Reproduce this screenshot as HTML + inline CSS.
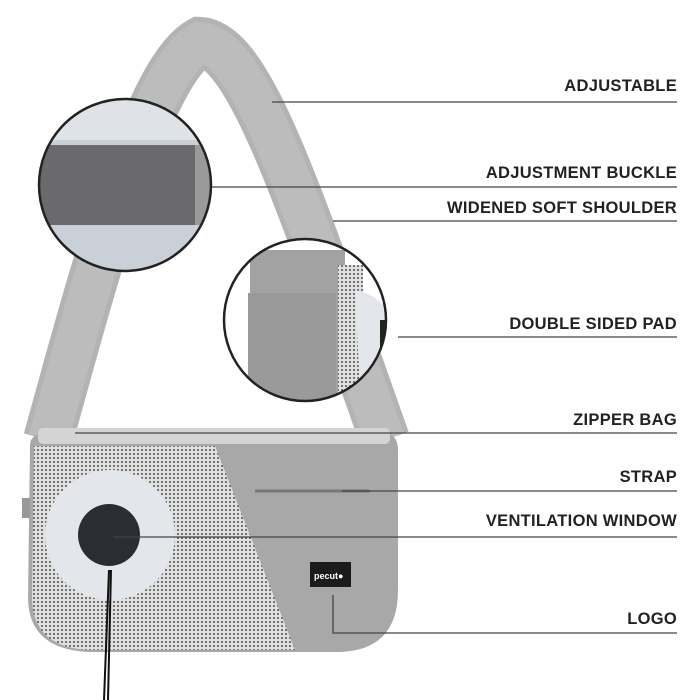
<!DOCTYPE html>
<html><head><style>
body{margin:0;background:#fff;width:700px;height:700px;overflow:hidden;position:relative;font-family:"Liberation Sans",sans-serif}
.l{position:absolute;right:23px;font-weight:bold;font-size:16.5px;color:#222;letter-spacing:0.3px;white-space:nowrap}
</style></head><body>
<svg width="700" height="700" style="position:absolute;left:0;top:0">
<defs>
<pattern id="mesh" width="4" height="4" patternUnits="userSpaceOnUse"><rect width="4" height="4" fill="#e2e2e2"/><circle cx="2" cy="2" r="1.1" fill="#666"/></pattern>
<clipPath id="c1"><circle cx="125" cy="185" r="86"/></clipPath>
<clipPath id="c2"><circle cx="305" cy="320" r="81"/></clipPath>
</defs>
<path d="M48,440 C 100,250 150,70 200,42 C 250,45 300,200 385,440" fill="none" stroke="#b3b3b3" stroke-width="50"/>
<path d="M48,440 C 100,250 150,70 200,42 C 250,45 300,200 385,440" fill="none" stroke="#bcbcbc" stroke-width="40"/>
<!-- bag body -->
<path d="M30,445 Q30,435 45,432 L385,432 Q398,435 398,450 L398,590 Q398,650 340,652 L90,652 Q30,650 28,600 Z" fill="#a8a8a8"/>
<rect x="38" y="428" width="352" height="16" rx="5" fill="#d4d4d4"/>
<path d="M34,446 L215,446 L295,650 L90,650 Q34,648 32,600 Z" fill="url(#mesh)"/>
<circle cx="110" cy="535" r="65" fill="#e3e6ea"/>
<circle cx="109" cy="535" r="31" fill="#2a2d33"/>
<path d="M109,570 L104,700 M111,570 L108,700" stroke="#111" stroke-width="2"/>
<line x1="255" y1="491" x2="370" y2="491" stroke="#777" stroke-width="3"/>
<rect x="310" y="562" width="41" height="25" fill="#1b1b1b"/>
<text x="314" y="579" font-size="9" fill="#fff" font-family="Liberation Sans" font-weight="bold">pecut●</text>
<rect x="22" y="498" width="8" height="20" fill="#999"/>
<!-- inset 1 -->
<g clip-path="url(#c1)">
<rect x="30" y="90" width="200" height="200" fill="#c9d0d8"/>
<rect x="30" y="90" width="200" height="50" fill="#dfe3e8"/>
<rect x="40" y="145" width="160" height="80" fill="#6a6a6c"/>
<rect x="195" y="145" width="15" height="80" fill="#9a9a9a"/>
</g>
<circle cx="125" cy="185" r="86" fill="none" stroke="#222" stroke-width="2.5"/>
<!-- inset 2 -->
<g clip-path="url(#c2)">
<rect x="220" y="235" width="180" height="180" fill="#fff"/>
<rect x="250" y="250" width="95" height="170" fill="#a2a2a2"/>
<rect x="248" y="293" width="88" height="130" fill="#9a9a9a"/>
<rect x="338" y="265" width="25" height="150" fill="url(#mesh)"/>
<path d="M355,290 Q400,300 395,350 Q385,400 360,390 Z" fill="#e3e6ea"/>
<rect x="380" y="320" width="12" height="40" fill="#222"/>
</g>
<circle cx="305" cy="320" r="81" fill="none" stroke="#222" stroke-width="2.5"/>
<g stroke="#444" stroke-width="1.3">
<line x1="272" y1="102" x2="677" y2="102"/>
<line x1="212" y1="187" x2="677" y2="187"/>
<line x1="333" y1="221" x2="677" y2="221"/>
<line x1="398" y1="337" x2="677" y2="337"/>
<line x1="75" y1="433" x2="677" y2="433"/>
<line x1="342" y1="491" x2="677" y2="491"/>
<line x1="113" y1="537" x2="677" y2="537"/>
<polyline points="333,595 333,633 677,633" fill="none"/>
</g>
</svg>
<div class="l" style="top:77px">ADJUSTABLE</div>
<div class="l" style="top:164px">ADJUSTMENT BUCKLE</div>
<div class="l" style="top:199px">WIDENED SOFT SHOULDER</div>
<div class="l" style="top:315px">DOUBLE SIDED PAD</div>
<div class="l" style="top:411px">ZIPPER BAG</div>
<div class="l" style="top:468px">STRAP</div>
<div class="l" style="top:512px">VENTILATION WINDOW</div>
<div class="l" style="top:610px">LOGO</div>
</body></html>
